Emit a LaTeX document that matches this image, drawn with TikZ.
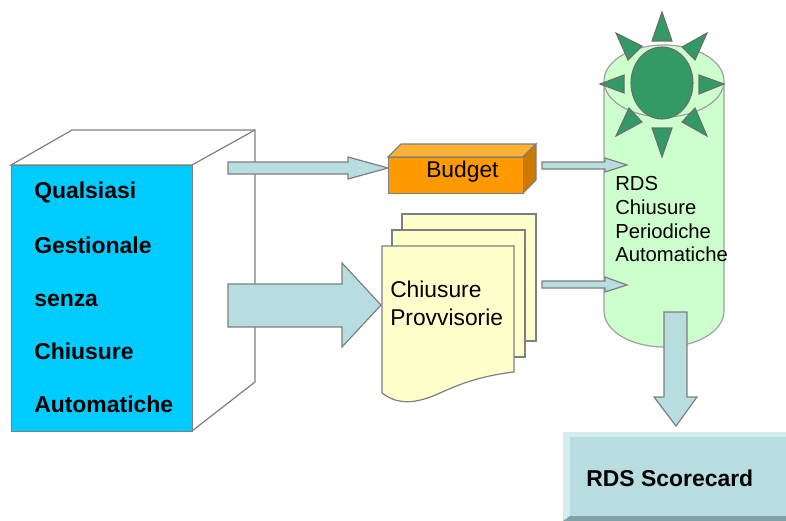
\documentclass[tikz,border=0pt]{standalone}
\usepackage{fontspec}
\setmainfont{Liberation Sans}
\definecolor{cubeblue}{HTML}{00CCFF}
\definecolor{arrowfill}{HTML}{B8DDE0}
\definecolor{boxface}{HTML}{FF9900}
\definecolor{boxtop}{HTML}{FFB133}
\definecolor{boxside}{HTML}{CC7A00}
\definecolor{paper}{HTML}{FFFFCC}
\definecolor{cyl}{HTML}{CCFFCC}
\definecolor{sun}{HTML}{339966}
\definecolor{edge}{HTML}{7F7F7F}
\definecolor{cardlight}{HTML}{D5ECEE}
\definecolor{carddark}{HTML}{7FA3A6}
\tikzset{
  outline/.style={draw=edge,line width=0.9pt,line join=miter},
  cyloutline/.style={draw=edge!75,line width=0.9pt},
  blockarrow/.style={outline,fill=arrowfill},
  sunpart/.style={draw=edge!85!black,line width=0.8pt,fill=sun},
  boldtext/.style={font=\fontsize{17.2}{20}\selectfont\bfseries,anchor=base west,inner sep=0pt,text=black},
  plaintext/.style={font=\fontsize{17.1}{20}\selectfont,anchor=base west,inner sep=0pt,text=black},
  cyltext/.style={font=\fontsize{15.2}{18}\selectfont,anchor=base west,inner sep=0pt,text=black}
}
\begin{document}
\begin{tikzpicture}[x=0.75pt,y=-0.75pt]
\useasboundingbox (0,0) rectangle (786,521);
% cube
\draw[outline,fill=white] (11,165) -- (72,130) -- (255,130) -- (255,382) -- (192,431) -- (192,165) -- cycle;
\draw[outline] (192,165) -- (255,130);
\node[outline,fill=cubeblue,inner sep=0pt,minimum width=135.75pt,minimum height=199.5pt,anchor=north west] (cube) at (11,165) {};
\node[boldtext] (t1) at (34,198) {Qualsiasi};
\node[boldtext] (t2) at (34,253) {Gestionale};
\node[boldtext] (t3) at (34,306) {senza};
\node[boldtext] (t4) at (34,359) {Chiusure};
\node[boldtext] (t5) at (34,412) {Automatiche};
% block arrows out of the cube
\draw[blockarrow] (228,162) -- (348,162) -- (348,157) -- (388,168) -- (348,179) -- (348,174) -- (228,174) -- cycle;
\draw[blockarrow] (228,284) -- (342,284) -- (342,263) -- (381,305) -- (342,347) -- (342,327) -- (228,327) -- cycle;
% budget box
\draw[outline,fill=boxtop] (388,157) -- (401,144) -- (536,144) -- (523,157) -- cycle;
\draw[outline,fill=boxside] (523,157) -- (536,144) -- (536,180) -- (523,193) -- cycle;
\node[outline,fill=boxface,inner sep=0pt,minimum width=101.25pt,minimum height=27pt,anchor=north west] (budget) at (388,157) {};
\node[plaintext] (budgetlabel) at (426,177) {Budget};
% documents
\draw[outline,fill=paper] (402,214) rectangle (536,341);
\draw[outline,fill=paper] (392,230) rectangle (525,357);
\draw[outline,fill=paper] (382,246) -- (514,246) -- (514,372)
  .. controls (480,376) and (460,384) .. (440,393)
  .. controls (420,402) and (400,407) .. (382,393) -- cycle;
\node[plaintext] (c1) at (390,297) {Chiusure};
\node[plaintext] (c2) at (390,325) {Provvisorie};
% cylinder
\draw[cyloutline,fill=cyl] (604,83) -- (604,311) arc[start angle=180,end angle=0,x radius=60,y radius=36] -- (724,83) -- cycle;
\draw[cyloutline,fill=cyl] (664,81) ellipse[x radius=60,y radius=36];
\node[cyltext] (r1) at (615,190) {RDS};
\node[cyltext] (r2) at (615,214) {Chiusure};
\node[cyltext] (r3) at (615,238) {Periodiche};
\node[cyltext] (r4) at (615,261) {Automatiche};
% sun
\draw[sunpart] (662,83) ellipse[x radius=31,y radius=36];
\draw[sunpart] (662,12) -- (672,41) -- (652,41) -- cycle;
\draw[sunpart] (662,157) -- (672,128) -- (652,128) -- cycle;
\draw[sunpart] (600,84) -- (624,75) -- (624,93) -- cycle;
\draw[sunpart] (724,84) -- (699,75) -- (699,94) -- cycle;
\draw[sunpart] (707,33) -- (682,47) -- (695,60) -- cycle;
\draw[sunpart] (616,33) -- (642,46) -- (628,60) -- cycle;
\draw[sunpart] (616,136) -- (629,108) -- (642,122) -- cycle;
\draw[sunpart] (707,136) -- (695,108) -- (682,122) -- cycle;
% block arrows into the cylinder
\draw[blockarrow] (542,162) -- (605,162) -- (605,158) -- (627,165) -- (605,172) -- (605,169) -- (542,169) -- cycle;
\draw[blockarrow] (542,281) -- (605,281) -- (605,277) -- (627,285) -- (605,292) -- (605,288) -- (542,288) -- cycle;
% arrow down
\draw[blockarrow] (664,312) -- (687,312) -- (687,397) -- (697,397) -- (676,426) -- (654,397) -- (664,397) -- cycle;
% scorecard
\fill[arrowfill] (563,432) rectangle (786,521);
\fill[cardlight] (563,432) -- (786,432) -- (786,437) -- (570,437) -- (570,516) -- (563,521) -- cycle;
\fill[carddark] (563,521) -- (570,516) -- (786,516) -- (786,521) -- cycle;
\node[boldtext] (score) at (586,486) {RDS Scorecard};
\end{tikzpicture}
\end{document}
